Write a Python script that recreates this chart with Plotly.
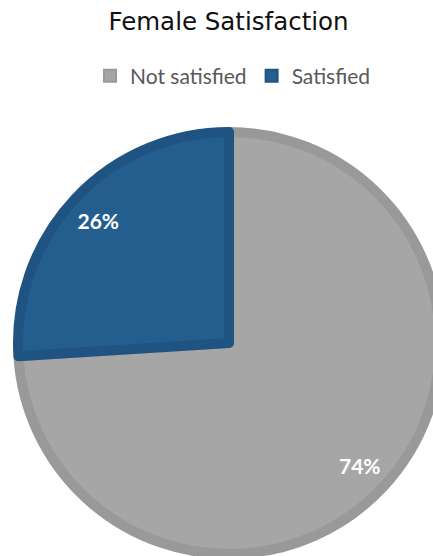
import plotly.graph_objects as go

# ---- data ----
labels = ["Not satisfied", "Satisfied"]
values = [74, 26]
fill_colors = ["#A6A6A6", "#245E8F"]
edge_colors = ["#999999", "#1F5482"]
title_text = "Female Satisfaction"

# ---- layout geometry (pixels) ----
W, H = 460, 572
cx, cy = 229, 343        # pie centre in page pixels
lw = 10                  # slice border width
r = 216 - lw / 2         # so that outer edge of border lands at 216

dom_x = [(cx - r) / W, (cx + r) / W]
dom_y = [1 - (cy + r) / H, 1 - (cy - r) / H]

fig = go.Figure()

# main pie (slices + legend)
fig.add_trace(go.Pie(
    labels=labels,
    values=values,
    sort=False,
    direction="clockwise",
    rotation=0,
    marker=dict(colors=fill_colors, line=dict(color=edge_colors, width=lw)),
    textinfo="none",
    hoverinfo="label+percent",
    domain=dict(x=dom_x, y=dom_y),
    showlegend=True,
))

# transparent ring carrying the percentage labels near the rim
fig.add_trace(go.Pie(
    labels=labels,
    values=values,
    sort=False,
    direction="clockwise",
    rotation=0,
    hole=0.70,
    marker=dict(colors=["rgba(0,0,0,0)"] * len(values), line=dict(width=0)),
    textinfo="percent",
    texttemplate="%{percent:.0%}",
    textposition="inside",
    insidetextorientation="horizontal",
    textfont=dict(family="Lato", size=21, color="white", weight="bold"),
    hoverinfo="skip",
    domain=dict(x=dom_x, y=dom_y),
    showlegend=False,
))

fig.update_layout(
    width=W,
    height=H,
    autosize=False,
    margin=dict(l=0, r=0, t=0, b=0),
    paper_bgcolor="white",
    plot_bgcolor="white",
    title=dict(
        text=title_text,
        x=228.5 / W, xanchor="center", xref="container",
        y=1 - 21 / H, yanchor="middle", yref="container",
        font=dict(family="DejaVu Sans", size=24.5, color="#111111"),
    ),
    legend=dict(
        orientation="h",
        x=233 / W, xanchor="center",
        y=1 - 76 / H, yanchor="middle",
        font=dict(family="Lato", size=21, color="#595959"),
        itemsizing="constant",
        traceorder="normal",
    ),
)

fig.write_html(
    "out.html",
    post_script="document.documentElement.style.overflow='hidden';document.body.style.overflow='hidden';",
)
